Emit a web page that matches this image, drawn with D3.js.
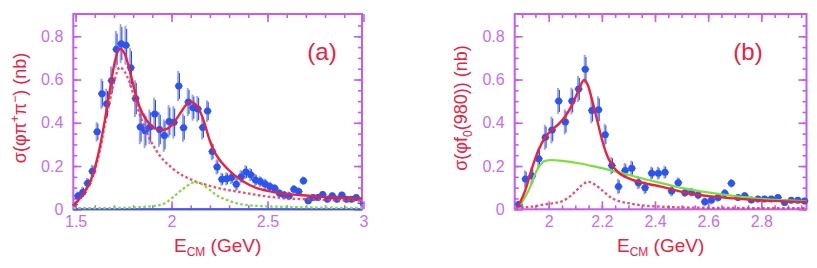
<!DOCTYPE html>
<html>
<head>
<meta charset="utf-8">
<script src="https://cdn.jsdelivr.net/npm/d3@7"></script>
<style>
  body { margin: 0; background: #fff; }
  svg { display: block; font-family: "Liberation Sans", Arial, sans-serif; }
</style>
</head>
<body>
<svg id="chart" width="817" height="268"></svg>
<script>
// ---- panel (a): phi pi+ pi- ----
const energyA = [1.5125, 1.5375, 1.5625, 1.5875, 1.6125, 1.6375, 1.6625, 1.6875, 1.7125, 1.7375,
  1.7625, 1.7875, 1.8125, 1.8375, 1.8625, 1.8875, 1.9125, 1.9375, 1.9625, 1.9875,
  2.0125, 2.0375, 2.0625, 2.0875, 2.1125, 2.1375, 2.1625, 2.1875, 2.2125, 2.2375,
  2.2625, 2.2875, 2.3125, 2.3375, 2.3625, 2.3875, 2.4125, 2.4375, 2.4625, 2.4875,
  2.5125, 2.5375, 2.5625, 2.5875, 2.6125, 2.6375, 2.6625, 2.6875, 2.7125, 2.7375,
  2.7625, 2.7875, 2.8125, 2.8375, 2.8625, 2.8875, 2.9125, 2.9375, 2.9625];
const sigmaA = [0.062, 0.079, 0.120, 0.176, 0.358, 0.534, 0.488, 0.595, 0.740, 0.766,
  0.758, 0.655, 0.512, 0.381, 0.363, 0.381, 0.441, 0.369, 0.341, 0.406,
  0.402, 0.570, 0.377, 0.496, 0.470, 0.464, 0.378, 0.454, 0.267, 0.196,
  0.139, 0.141, 0.147, 0.116, 0.151, 0.172, 0.160, 0.136, 0.128, 0.117,
  0.105, 0.097, 0.074, 0.066, 0.062, 0.093, 0.082, 0.132, 0.040, 0.054,
  0.055, 0.069, 0.046, 0.063, 0.046, 0.066, 0.046, 0.046, 0.055];
const errA = [0.020, 0.025, 0.025, 0.030, 0.045, 0.070, 0.070, 0.065, 0.085, 0.090,
  0.090, 0.090, 0.085, 0.080, 0.080, 0.080, 0.075, 0.080, 0.075, 0.075,
  0.075, 0.070, 0.065, 0.065, 0.060, 0.060, 0.055, 0.050, 0.040, 0.035,
  0.030, 0.030, 0.030, 0.030, 0.030, 0.032, 0.030, 0.028, 0.025, 0.025,
  0.022, 0.020, 0.020, 0.020, 0.020, 0.020, 0.020, 0.020, 0.018, 0.016,
  0.016, 0.016, 0.015, 0.015, 0.015, 0.015, 0.015, 0.015, 0.015];
// fit curves: [E, sigma]
const fitA = [[1.488, 0.017], [1.539, 0.071], [1.591, 0.163], [1.626, 0.287], [1.652, 0.41],
  [1.678, 0.549], [1.704, 0.681], [1.730, 0.742], [1.756, 0.719], [1.782, 0.642],
  [1.808, 0.549], [1.834, 0.472], [1.869, 0.413], [1.912, 0.376], [1.956, 0.367],
  [1.999, 0.387], [2.043, 0.441], [2.077, 0.484], [2.098, 0.498], [2.121, 0.488],
  [2.147, 0.456], [2.173, 0.395], [2.199, 0.318], [2.225, 0.264], [2.245, 0.235],
  [2.288, 0.190], [2.374, 0.128], [2.548, 0.077], [2.722, 0.062], [2.9925, 0.050]];
const bwLowA = [[1.488, 0.017], [1.539, 0.068], [1.591, 0.155], [1.626, 0.27], [1.652, 0.39],
  [1.678, 0.50], [1.704, 0.60], [1.730, 0.657], [1.756, 0.635], [1.780, 0.59],
  [1.816, 0.487], [1.852, 0.395], [1.921, 0.271], [2.008, 0.187], [2.095, 0.140],
  [2.201, 0.108], [2.374, 0.077], [2.548, 0.054], [2.750, 0.045], [2.9925, 0.040]];
const bwHighA = [[1.488, 0.005], [1.700, 0.006], [1.834, 0.010], [1.921, 0.017], [1.970, 0.030],
  [2.008, 0.056], [2.060, 0.094], [2.121, 0.125], [2.150, 0.120], [2.181, 0.102],
  [2.201, 0.089], [2.239, 0.063], [2.288, 0.043], [2.374, 0.022], [2.548, 0.012], [2.9925, 0.006]];
const cornerA = [[1.497, 0.022], [2.985, 0.028]];

// ---- panel (b): phi f0(980) ----
const energyB = [1.8875, 1.9125, 1.9375, 1.9625, 1.9875, 2.0125, 2.0375, 2.0625, 2.0875, 2.1125,
  2.1375, 2.1625, 2.1875, 2.2125, 2.2375, 2.2625, 2.2875, 2.3125, 2.3375, 2.3625,
  2.3875, 2.4125, 2.4375, 2.4625, 2.4875, 2.5125, 2.5375, 2.5625, 2.5875, 2.6125,
  2.6375, 2.6625, 2.6875, 2.7125, 2.7375, 2.7625, 2.7875, 2.8125, 2.8375, 2.8625,
  2.8875, 2.9125, 2.9375, 2.9625];
const sigmaB = [0.023, 0.140, 0.154, 0.234, 0.333, 0.367, 0.501, 0.404, 0.501, 0.556,
  0.648, 0.457, 0.460, 0.345, 0.202, 0.105, 0.179, 0.190, 0.123, 0.100,
  0.167, 0.167, 0.171, 0.085, 0.123, 0.077, 0.079, 0.066, 0.035, 0.043,
  0.055, 0.074, 0.120, 0.055, 0.063, 0.043, 0.048, 0.048, 0.048, 0.054,
  0.032, 0.042, 0.042, 0.038];
const errB = [0.015, 0.040, 0.040, 0.045, 0.058, 0.062, 0.060, 0.058, 0.062, 0.060,
  0.066, 0.060, 0.062, 0.050, 0.040, 0.035, 0.035, 0.035, 0.030, 0.030,
  0.030, 0.030, 0.030, 0.025, 0.025, 0.020, 0.020, 0.020, 0.020, 0.020,
  0.020, 0.020, 0.020, 0.016, 0.016, 0.015, 0.015, 0.015, 0.015, 0.015,
  0.015, 0.015, 0.015, 0.015];
const fitB = [[1.884, 0.012], [1.912, 0.089], [1.937, 0.190], [1.962, 0.275], [1.987, 0.333],
  [2.012, 0.367], [2.038, 0.395], [2.062, 0.429], [2.088, 0.483], [2.113, 0.552],
  [2.133, 0.598], [2.147, 0.575], [2.163, 0.506], [2.182, 0.413], [2.200, 0.324],
  [2.219, 0.251], [2.238, 0.205], [2.263, 0.169], [2.301, 0.143], [2.363, 0.120],
  [2.423, 0.105], [2.525, 0.074], [2.651, 0.055], [2.776, 0.043], [2.970, 0.034]];
const continuumB = [[1.893, 0.020], [1.925, 0.089], [1.956, 0.182], [1.987, 0.224], [2.012, 0.228],
  [2.050, 0.224], [2.113, 0.213], [2.175, 0.197], [2.238, 0.179], [2.301, 0.159],
  [2.400, 0.128], [2.525, 0.093], [2.651, 0.069], [2.776, 0.051], [2.970, 0.037]];
const resB = [[1.876, 0.008], [1.937, 0.012], [1.987, 0.023], [2.050, 0.037], [2.075, 0.055],
  [2.100, 0.082], [2.125, 0.112], [2.150, 0.127], [2.175, 0.113], [2.200, 0.089],
  [2.238, 0.051], [2.301, 0.028], [2.423, 0.012], [2.600, 0.007], [2.970, 0.005]];

// ---- ticks ----
const xTicksA = [1.5, 2, 2.5, 3];
const xTicksB = [2, 2.2, 2.4, 2.6, 2.8];
const yTicks = [0, 0.2, 0.4, 0.6, 0.8];

const purple = "#c25cf2", labelPurple = "#c46ef4";
const red = "#ee2040", green = "#7ae038", blue = "#2a55f0";

const svg = d3.select("#chart");
svg.append("rect").attr("width", 817).attr("height", 268).attr("fill", "#fff");

const plotTop = 14, plotBottom = 209.3;

function drawPanel(p) {
    let x = d3.scaleLinear().domain(p.xDom).range([p.left, p.right]);
    let y = d3.scaleLinear().domain([0, 0.903]).range([plotBottom, plotTop]);
    let g = svg.append("g");

    let minorX = d3.range(Math.ceil(p.xDom[0] / p.minorStep - 1e-6), Math.floor(p.xDom[1] / p.minorStep + 1e-6) + 1)
        .map(k => +(k * p.minorStep).toFixed(3));
    let minorY = d3.range(0, 18).map(k => +(k * 0.05).toFixed(2));
    let fmt = d => d === 0 ? "0" : String(d);

    // inward ticks on all four sides
    let axes = [
        [d3.axisBottom(x).tickValues(p.xTicks).tickFormat(fmt).tickSize(-8).tickPadding(6), `translate(0,${plotBottom})`],
        [d3.axisBottom(x).tickValues(minorX).tickFormat("").tickSize(-4), `translate(0,${plotBottom})`],
        [d3.axisTop(x).tickValues(p.xTicks).tickFormat("").tickSize(-8), `translate(0,${plotTop})`],
        [d3.axisTop(x).tickValues(minorX).tickFormat("").tickSize(-4), `translate(0,${plotTop})`],
        [d3.axisLeft(y).tickValues(yTicks).tickFormat(fmt).tickSize(-8).tickPadding(10), `translate(${p.left},0)`],
        [d3.axisLeft(y).tickValues(minorY).tickFormat("").tickSize(-4), `translate(${p.left},0)`],
        [d3.axisRight(y).tickValues(yTicks).tickFormat("").tickSize(-8), `translate(${p.right},0)`],
        [d3.axisRight(y).tickValues(minorY).tickFormat("").tickSize(-4), `translate(${p.right},0)`]
    ];
    axes.forEach(([ax, tr]) => {
        let a = g.append("g").attr("transform", tr).call(ax.tickSizeOuter(0));
        a.select(".domain").remove();
        a.selectAll(".tick line").attr("stroke", purple).attr("stroke-width", 1.6);
        a.selectAll(".tick text").attr("fill", labelPurple)
            .attr("font-size", 16).attr("font-family", "Liberation Sans, Arial, sans-serif");
    });

    // frame
    g.append("rect").attr("x", p.left).attr("y", plotTop)
        .attr("width", p.right - p.left).attr("height", plotBottom - plotTop)
        .attr("fill", "none").attr("stroke", purple).attr("stroke-width", 2);
    if (p.blueBase) {
        g.append("line").attr("x1", p.left).attr("x2", p.right)
            .attr("y1", plotBottom).attr("y2", plotBottom)
            .attr("stroke", "#3a58ee").attr("stroke-width", 2);
        g.selectAll(".corner").data(p.corners).join("path")
            .attr("d", d => {
                let cx = x(d[0]), cy = y(d[1]);
                return `M${cx - 3},${cy}H${cx + 3}M${cx},${cy - 3}V${cy + 3}`;
            })
            .attr("stroke", "#3a58ee").attr("stroke-width", 1.3);
    }

    let line = d3.line().x(d => x(d[0])).y(d => y(d[1])).curve(d3.curveMonotoneX);

    // data with error bars
    let pts = p.energy.map((e, i) => ({e: e, v: p.sigma[i], err: p.err[i]}));
    let dg = g.append("g");
    dg.selectAll(".errl").data(pts).join("line")
        .attr("x1", d => x(d.e) - 0.6).attr("x2", d => x(d.e) - 0.6)
        .attr("y1", d => y(d.v - d.err)).attr("y2", d => y(d.v + d.err))
        .attr("stroke", "#93a4f6").attr("stroke-width", 1.9);
    dg.selectAll(".errd").data(pts).join("line")
        .attr("x1", d => x(d.e) + 0.7).attr("x2", d => x(d.e) + 0.7)
        .attr("y1", d => y(d.v - d.err * 0.85)).attr("y2", d => y(d.v + d.err * 0.85))
        .attr("stroke", "#2442e6").attr("stroke-width", 1.0);
    dg.selectAll(".errh").data(pts).join("line")
        .attr("x1", d => x(d.e) - 4).attr("x2", d => x(d.e) + 4)
        .attr("y1", d => y(d.v)).attr("y2", d => y(d.v))
        .attr("stroke", blue).attr("stroke-width", 1.1);
    dg.selectAll("circle").data(pts).join("circle")
        .attr("cx", d => x(d.e)).attr("cy", d => y(d.v)).attr("r", 3.5)
        .attr("fill", blue);

    // fit curves
    p.curves.forEach(c => {
        g.append("path").datum(c.data).attr("d", line)
            .attr("fill", "none").attr("stroke", c.color)
            .attr("stroke-width", c.width).attr("stroke-dasharray", c.dash || null)
            .attr("stroke-opacity", c.opacity || 1);
    });

    // labels
    g.append("text").attr("x", p.tagX).attr("y", 60).attr("text-anchor", "middle")
        .attr("fill", red).attr("font-size", 24).text(p.tag);

    let xt = g.append("text").attr("x", (p.left + p.right) / 2).attr("y", 252)
        .attr("text-anchor", "middle").attr("fill", red).attr("font-size", 19);
    xt.append("tspan").text("E");
    xt.append("tspan").attr("font-size", 12).attr("dy", 4).text("CM");
    xt.append("tspan").attr("dy", -4).text(" (GeV)");

    let yt = g.append("text")
        .attr("transform", `translate(${p.titleX},108) rotate(-90)`)
        .attr("text-anchor", "middle").attr("fill", red).attr("font-size", 18);
    p.title.forEach(t => {
        let s = yt.append("tspan").text(t.s);
        if (t.sz) s.attr("font-size", t.sz);
        if (t.dy) s.attr("dy", t.dy);
    });
}

drawPanel({
    left: 73.3, right: 362, xDom: [1.488, 2.9925], xTicks: xTicksA, minorStep: 0.1,
    energy: energyA, sigma: sigmaA, err: errA, blueBase: true, corners: cornerA,
    curves: [
        {data: bwLowA, color: "#f03a5a", width: 2.3, dash: "2.6,2.4", opacity: 0.9},
        {data: bwHighA, color: green, width: 2.3, dash: "2.6,2.4"},
        {data: fitA, color: red, width: 2.4}
    ],
    tag: "(a)", tagX: 322, titleX: 26,
    title: [{s: "σ(φπ"}, {s: "+", sz: 12, dy: -7}, {s: "π", dy: 7}, {s: "−", sz: 12, dy: -7},
            {s: ") (nb)", dy: 7}]
});

drawPanel({
    left: 514.7, right: 806.5, xDom: [1.872, 2.970], xTicks: xTicksB, minorStep: 0.05,
    energy: energyB, sigma: sigmaB, err: errB, blueBase: false,
    curves: [
        {data: resB, color: "#f03a5a", width: 2.3, dash: "2.6,2.4", opacity: 0.9},
        {data: continuumB, color: green, width: 2.2},
        {data: fitB, color: red, width: 2.4}
    ],
    tag: "(b)", tagX: 748, titleX: 467,
    title: [{s: "σ(φf"}, {s: "0", sz: 12, dy: 5}, {s: "(980)) (nb)", dy: -5}]
});
</script>
</body>
</html>
